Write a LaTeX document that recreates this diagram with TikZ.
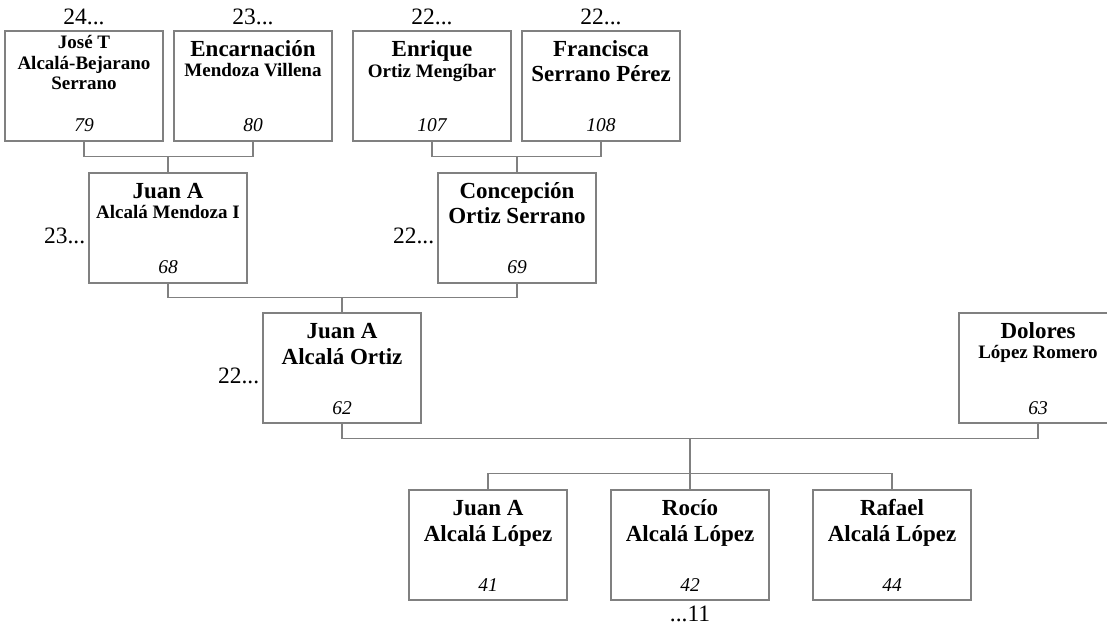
\documentclass[tikz,border=0pt]{standalone}
\usepackage{fontspec}
\setmainfont{Liberation Serif}
\usetikzlibrary{positioning}
\definecolor{linegray}{RGB}{128,128,128}

\begin{document}
\begin{tikzpicture}[x=1pt, y=-1pt,
    box/.style = {draw=linegray, line width=1.2pt, minimum width=158pt, minimum height=110pt, inner sep=0pt},
    big/.style = {font=\fontsize{23}{26}\selectfont\bfseries, anchor=base, inner sep=0pt},
    small/.style = {font=\fontsize{19}{21}\selectfont\bfseries, anchor=base, inner sep=0pt},
    num/.style = {font=\fontsize{19.5}{22}\selectfont\itshape, anchor=base, inner sep=0pt},
    gen/.style = {font=\fontsize{23.5}{26}\selectfont, inner sep=0pt},
    link/.style = {draw=linegray, line width=1.2pt}]

    \useasboundingbox (0,0) rectangle (1107,627);

    % great-grandparents
    \node at (84, 86) [box] (p79) {};
    \node[small] at ([yshift=-18pt]p79.north) (n79a) {José T};
    \node[small] at ([yshift=-39pt]p79.north) (n79b) {Alcalá-Bejarano};
    \node[small] at ([yshift=-59pt]p79.north) (n79c) {Serrano};
    \node[num] at ([yshift=10pt]p79.south) (i79) {79};
    \node[gen, above=5pt of p79] (g79) {24...};

    \node at (253, 86) [box] (p80) {};
    \node[big] at ([yshift=-26pt]p80.north) (n80a) {Encarnación};
    \node[small] at ([yshift=-46pt]p80.north) (n80b) {Mendoza Villena};
    \node[num] at ([yshift=10pt]p80.south) (i80) {80};
    \node[gen, above=5pt of p80] (g80) {23...};

    \node at (432, 86) [box] (p107) {};
    \node[big] at ([yshift=-26pt]p107.north) (n107a) {Enrique};
    \node[small] at ([yshift=-47pt]p107.north) (n107b) {Ortiz Mengíbar};
    \node[num] at ([yshift=10pt]p107.south) (i107) {107};
    \node[gen, above=5pt of p107] (g107) {22...};

    \node at (601, 86) [box] (p108) {};
    \node[big] at ([yshift=-26pt]p108.north) (n108a) {Francisca};
    \node[big] at ([yshift=-51pt]p108.north) (n108b) {Serrano Pérez};
    \node[num] at ([yshift=10pt]p108.south) (i108) {108};
    \node[gen, above=5pt of p108] (g108) {22...};

    % grandparents
    \node at (168, 228) [box] (p68) {};
    \node[big] at ([yshift=-26pt]p68.north) (n68a) {Juan A};
    \node[small] at ([yshift=-46pt]p68.north) (n68b) {Alcalá Mendoza I};
    \node[num] at ([yshift=10pt]p68.south) (i68) {68};
    \node[gen, left=3pt of p68, yshift=-8pt] (g68) {23...};

    \node at (517, 228) [box] (p69) {};
    \node[big] at ([yshift=-26pt]p69.north) (n69a) {Concepción};
    \node[big] at ([yshift=-51pt]p69.north) (n69b) {Ortiz Serrano};
    \node[num] at ([yshift=10pt]p69.south) (i69) {69};
    \node[gen, left=3pt of p69, yshift=-8pt] (g69) {22...};

    % parents
    \node at (342, 368) [box] (p62) {};
    \node[big] at ([yshift=-26pt]p62.north) (n62a) {Juan A};
    \node[big] at ([yshift=-52pt]p62.north) (n62b) {Alcalá Ortiz};
    \node[num] at ([yshift=9pt]p62.south) (i62) {62};
    \node[gen, left=3pt of p62, yshift=-8pt] (g62) {22...};

    \node at (1038, 368) [box] (p63) {};
    \node[big] at ([yshift=-26pt]p63.north) (n63a) {Dolores};
    \node[small] at ([yshift=-46pt]p63.north) (n63b) {López Romero};
    \node[num] at ([yshift=9pt]p63.south) (i63) {63};

    % children
    \node at (488, 545) [box] (p41) {};
    \node[big] at ([yshift=-26pt]p41.north) (n41a) {Juan A};
    \node[big] at ([yshift=-52pt]p41.north) (n41b) {Alcalá López};
    \node[num] at ([yshift=9pt]p41.south) (i41) {41};

    \node at (690, 545) [box] (p42) {};
    \node[big] at ([yshift=-26pt]p42.north) (n42a) {Rocío};
    \node[big] at ([yshift=-52pt]p42.north) (n42b) {Alcalá López};
    \node[num] at ([yshift=9pt]p42.south) (i42) {42};
    \node[gen, below=5pt of p42] (g42) {...11};

    \node at (892, 545) [box] (p44) {};
    \node[big] at ([yshift=-26pt]p44.north) (n44a) {Rafael};
    \node[big] at ([yshift=-52pt]p44.north) (n44b) {Alcalá López};
    \node[num] at ([yshift=9pt]p44.south) (i44) {44};

    % couples and descent
    \draw[link] (p79.south) |- ([yshift=16pt]p68.north) -| (p80.south);
    \draw[link] ([yshift=16pt]p68.north) -- (p68.north);
    \draw[link] (p107.south) |- ([yshift=16pt]p69.north) -| (p108.south);
    \draw[link] ([yshift=16pt]p69.north) -- (p69.north);
    \draw[link] (p68.south) |- ([yshift=15pt]p62.north) -| (p69.south);
    \draw[link] ([yshift=15pt]p62.north) -- (p62.north);
    \coordinate (c62) at ([yshift=51pt]p42.north);
    \draw[link] (p62.south) |- (c62) -| (p63.south);
    \draw[link] (c62) -- (p42.north);
    \draw[link] (p41.north) |- ([yshift=16pt]p42.north) -| (p44.north);
\end{tikzpicture}
\end{document}
